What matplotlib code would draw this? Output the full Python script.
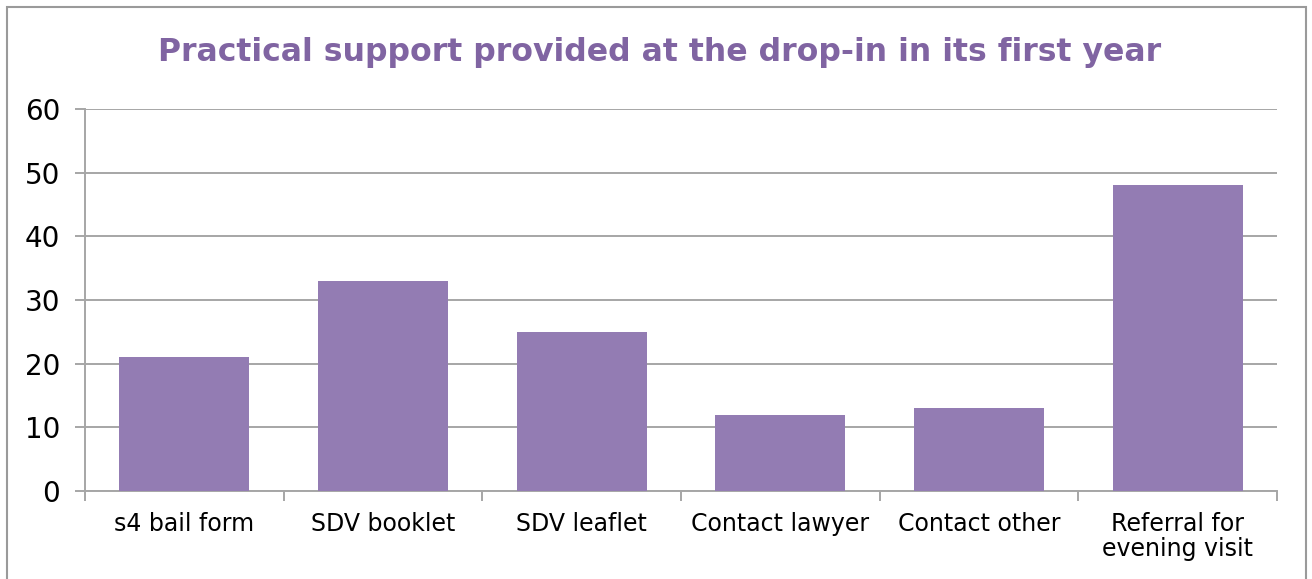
import matplotlib.pyplot as plt
from matplotlib.patches import Rectangle

# ── Data ──────────────────────────────────────────────────────────────────────
categories = ["s4 bail form", "SDV booklet", "SDV leaflet",
              "Contact lawyer", "Contact other", "Referral for\nevening visit"]
counts = [21, 33, 25, 12, 13, 48]
y_ticks = [0, 10, 20, 30, 40, 50, 60]

TITLE = "Practical support provided at the drop-in in its first year"
BAR_COLOR = "#937CB3"
TITLE_COLOR = "#8064A2"
GRID_COLOR = "#A6A6A6"

fig = plt.figure(figsize=(13.12, 5.79), dpi=100)
ax = fig.add_axes([0.0648, 0.152, 0.9085, 0.6597])

x = range(len(categories))
ax.bar(x, counts, width=0.655, color=BAR_COLOR, zorder=3)

ax.set_xlim(-0.5, len(categories) - 0.5)
ax.set_ylim(0, 60)
ax.set_yticks(y_ticks)
ax.set_yticklabels([str(t) for t in y_ticks], fontsize=20)
ax.yaxis.grid(True, color=GRID_COLOR, linewidth=1.4, zorder=0)

# category labels centred, tick marks between categories
ax.set_xticks(list(x))
ax.set_xticklabels(categories, fontsize=17, linespacing=1.05)
ax.tick_params(axis="x", length=0, pad=15)
ax.set_xticks([i - 0.5 for i in range(len(categories) + 1)], minor=True)
ax.tick_params(axis="x", which="minor", length=7, color=GRID_COLOR, width=1.4)
ax.tick_params(axis="y", length=7, color=GRID_COLOR, width=1.4, pad=11)

for side in ("top", "right"):
    ax.spines[side].set_visible(False)
for side in ("left", "bottom"):
    ax.spines[side].set_color(GRID_COLOR)
    ax.spines[side].set_linewidth(1.4)

fig.text(0.503, 0.91, TITLE, ha="center", va="center",
         fontsize=22.7, fontweight="bold", color=TITLE_COLOR)

# outer chart border
fig.add_artist(Rectangle((7 / 1312, -0.01), 1299 / 1312, 1 - 7 / 579 + 0.01,
                         transform=fig.transFigure, fill=False,
                         edgecolor="#9A9A9A", linewidth=1.5))

fig.savefig("out.png", dpi=100)
